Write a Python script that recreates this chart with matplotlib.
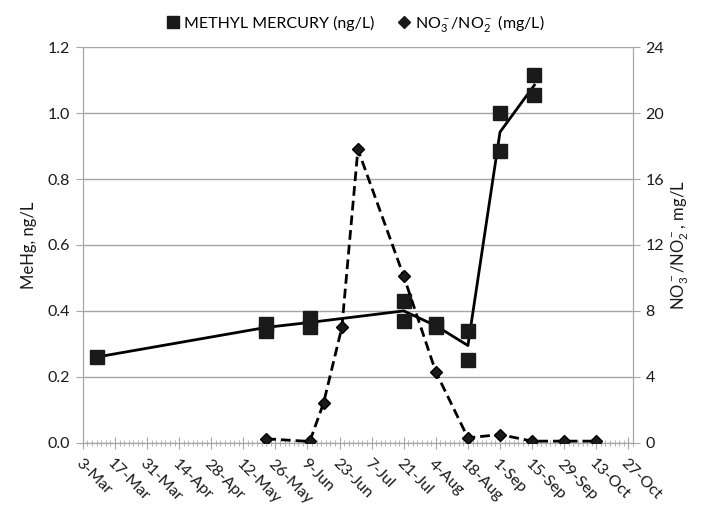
import matplotlib
matplotlib.use('Agg')
import matplotlib.pyplot as plt
import matplotlib.dates as mdates
from matplotlib.lines import Line2D
import pandas as pd

plt.rcParams['font.family'] = ['Lato', 'DejaVu Sans']
plt.rcParams['mathtext.fontset'] = 'custom'
plt.rcParams['mathtext.rm'] = 'Lato'
plt.rcParams['mathtext.it'] = 'Lato'

YEAR = '2009'

# methyl mercury samples (ng/L), two replicates on most dates
mehg_dates = ['9-Mar', '22-May', '22-May', '10-Jun', '10-Jun', '21-Jul', '21-Jul',
              '4-Aug', '4-Aug', '18-Aug', '18-Aug', '1-Sep', '1-Sep', '16-Sep', '16-Sep']
mehg_vals = [0.26, 0.36, 0.34, 0.38, 0.35, 0.43, 0.37,
             0.36, 0.35, 0.34, 0.25, 1.00, 0.885, 1.115, 1.055]

# nitrate/nitrite (mg/L)
no3_dates = ['22-May', '10-Jun', '16-Jun', '24-Jun', '1-Jul', '21-Jul', '4-Aug',
             '18-Aug', '1-Sep', '15-Sep', '29-Sep', '13-Oct']
no3_vals = [0.24, 0.08, 2.4, 7.0, 17.8, 10.1, 4.3, 0.3, 0.5, 0.1, 0.1, 0.1]

tick_labels = ['3-Mar', '17-Mar', '31-Mar', '14-Apr', '28-Apr', '12-May', '26-May', '9-Jun',
               '23-Jun', '7-Jul', '21-Jul', '4-Aug', '18-Aug', '1-Sep', '15-Sep', '29-Sep',
               '13-Oct', '27-Oct']


def todate(lst):
    return pd.to_datetime([f'{d}-{YEAR}' for d in lst], format='%d-%b-%Y')


md = todate(mehg_dates)
df = pd.DataFrame({'d': md, 'v': mehg_vals})
mean = df.groupby('d')['v'].mean()
nd = todate(no3_dates)
ticks = todate(tick_labels)

fig = plt.figure(figsize=(7.08, 5.24), dpi=100)
ax = fig.add_axes([0.117, 0.155, 0.777, 0.755])
ax2 = ax.twinx()

gray = '#a6a6a6'
ax.plot(mean.index, mean.values, color='black', lw=2, zorder=3)
ax.plot(md, mehg_vals, ls='none', marker='s', ms=9.5, color='#1a1a1a', zorder=4)
ax2.plot(nd, no3_vals, color='black', lw=2, ls=(0, (3.5, 1.8)), marker='D', ms=6.5,
         markerfacecolor='#1a1a1a', zorder=3)

ax.set_ylim(0, 1.2)
ax.set_yticks([0, 0.2, 0.4, 0.6, 0.8, 1.0, 1.2])
ax.set_yticklabels([f'{v:.1f}' for v in [0, 0.2, 0.4, 0.6, 0.8, 1.0, 1.2]])
ax2.set_ylim(0, 24)
ax2.set_yticks([0, 4, 8, 12, 16, 20, 24])
ax.set_xlim(ticks[0], ticks[-1] + pd.Timedelta(days=2))
ax.set_xticks(ticks)
ax.set_xticklabels(tick_labels, rotation=-45, ha='left', va='top', rotation_mode='anchor')
ax.xaxis.set_minor_locator(mdates.DayLocator(interval=2))
ax.grid(axis='y', color=gray, lw=1)
ax.set_axisbelow(True)

for a in (ax, ax2):
    for s in a.spines.values():
        s.set_color(gray)
    a.spines['top'].set_visible(False)
    a.tick_params(colors=gray, labelcolor='#1a1a1a', labelsize=11.5, length=5)
ax.tick_params(axis='x', which='major', direction='inout', length=8, pad=6)
ax.tick_params(axis='x', which='minor', direction='inout', length=5, color=gray)
ax.tick_params(axis='y', pad=4)
ax2.tick_params(axis='y', pad=4)

ax.set_ylabel('MeHg, ng/L', fontsize=12, color='#1a1a1a', labelpad=8)
ax2.set_ylabel(r'NO$_3^-$/NO$_2^-$, mg/L', fontsize=12, color='#1a1a1a', labelpad=4)

handles = [Line2D([], [], ls='none', marker='s', ms=9, color='#1a1a1a'),
           Line2D([], [], ls='none', marker='D', ms=6.5, color='#1a1a1a')]
fig.legend(handles, ['METHYL MERCURY (ng/L)', r'NO$_3^-$/NO$_2^-$ (mg/L)'],
           loc='center', bbox_to_anchor=(0.5, 0.955), ncol=2, frameon=False,
           fontsize=11.5, handletextpad=0.1, columnspacing=1.2, handlelength=1.2)

fig.savefig('out.png', dpi=100)
